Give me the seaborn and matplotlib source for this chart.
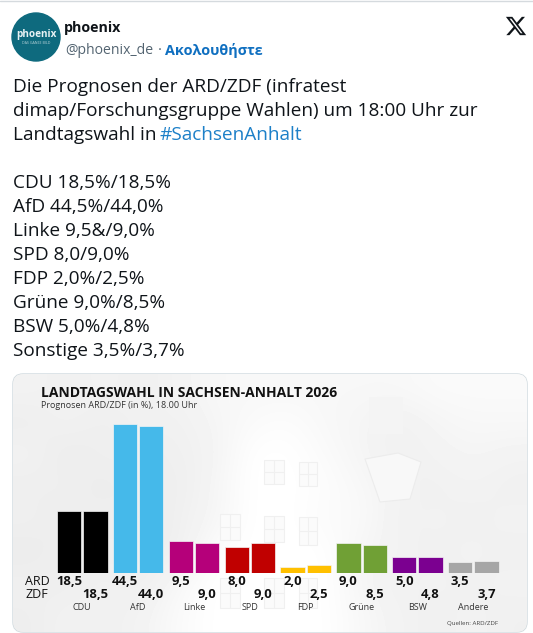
import pandas as pd
import matplotlib
matplotlib.use("Agg")
import matplotlib.pyplot as plt
import seaborn as sns
from matplotlib.patches import Circle, FancyBboxPatch, PathPatch, Polygon, Rectangle
from matplotlib.path import Path
from matplotlib.transforms import Affine2D

parties = ["CDU", "AfD", "Linke", "SPD", "FDP", "Grüne", "BSW", "Andere"]
ard = [18.5, 44.5, 9.5, 8.0, 2.0, 9.0, 5.0, 3.5]
zdf = [18.5, 44.0, 9.0, 9.0, 2.5, 8.5, 4.8, 3.7]
colors = ["#000000", "#45b9ea", "#b5007a", "#c00000", "#ffc000", "#70a035", "#7b0090", "#a6a6a6"]

tweet_lines = [
    "Die Prognosen der ARD/ZDF (infratest",
    "dimap/Forschungsgruppe Wahlen) um 18:00 Uhr zur",
]
result_lines = [
    "CDU 18,5%/18,5%",
    "AfD 44,5%/44,0%",
    "Linke 9,5&/9,0%",
    "SPD 8,0/9,0%",
    "FDP 2,0%/2,5%",
    "Grüne 9,0%/8,5%",
    "BSW 5,0%/4,8%",
    "Sonstige 3,5%/3,7%",
]

# rough tones of the faded photo behind the chart
photo_tones = [
    [.95, .94, .95, .94, .95, .97, .97, .97, .97, .97, .97, .98, .98, .98],
    [.93, .95, .93, .95, .94, .96, .98, .99, .97, .96, .94, .96, .97, .97],
    [.95, .92, .94, .93, .94, .95, 1.0, 1.0, .98, .96, .94, .95, .96, .95],
    [.93, .94, .92, .94, .93, .96, 1.0, 1.0, .99, .97, .95, .94, .95, .94],
    [.94, .92, .94, .92, .94, .96, 1.0, 1.0, .98, .98, .94, .95, .94, .95],
    [.92, .94, .93, .94, .93, .99, 1.0, 1.0, 1.0, .96, .95, .94, .95, .94],
    [.94, .93, .95, .93, .97, 1.0, 1.0, 1.0, 1.0, .96, .94, .95, .94, .95],
    [.93, .95, .94, .95, .98, 1.0, 1.0, 1.0, 1.0, .97, .95, .94, .95, .94],
]
window_boxes = [(264, 460, 20, 24), (299, 462, 18, 24), (220, 514, 20, 26), (264, 516, 20, 26),
                (299, 517, 18, 28), (220, 578, 20, 30), (264, 578, 20, 30), (299, 578, 18, 30)]
lantern_shape = [(365, 459), (398, 453), (421, 462), (410, 499), (380, 502)]

# x logo outline on a 24 unit grid
logo_points = [(18.244, 2.25), (21.552, 2.25), (14.325, 10.51), (22.827, 21.75), (16.17, 21.75),
               (10.956, 14.933), (4.99, 21.75), (1.68, 21.75), (9.41, 12.915), (1.254, 2.25),
               (8.08, 2.25), (12.793, 8.481), (18.244, 2.25),
               (17.083, 19.77), (18.916, 19.77), (7.084, 4.126), (5.117, 4.126), (17.083, 19.77)]
logo_codes = [Path.MOVETO] + [Path.LINETO] * 12 + [Path.MOVETO] + [Path.LINETO] * 4

sns.set_theme(style="white")
plt.rcParams["font.family"] = ["Open Sans", "DejaVu Sans"]

fig = plt.figure(figsize=(5.33, 6.33), dpi=100, facecolor="white")

# page layer in pixel coordinates for the post around the chart
page = fig.add_axes([0, 0, 1, 1])
page.set_xlim(0, 533)
page.set_ylim(633, 0)
page.axis("off")

page.plot([0, 533], [0.5, 0.5], color="#d5dade", lw=1)
page.add_patch(Circle((36, 37), 24, color="#0e6a7e"))
page.text(36, 35, "phoenix", color="#e8f2f4", fontsize=7.2, fontweight="bold", ha="center", va="center")
page.text(36, 43, "DAS GANZE BILD", color="#bcd6dc", fontsize=2.6, ha="center", va="center")
page.text(64, 28, "phoenix", color="#0f1419", fontsize=10.3, fontweight="bold", va="center")
page.text(65, 50.5, "@phoenix_de", color="#536471", fontsize=10.1, va="center")
page.text(158, 50.5, "·", color="#536471", fontsize=10.5, va="center")
page.text(165, 50.5, "Ακολουθήστε", color="#0f6fc0", fontsize=10.4, fontweight="bold", va="center")
logo_tf = Affine2D().translate(-12, -12).scale(0.94).translate(516, 26) + page.transData
page.add_patch(PathPatch(Path(logo_points, logo_codes), facecolor="#0f1419", edgecolor="none", transform=logo_tf))

for i, line in enumerate(tweet_lines):
    page.text(13, 87 + 24 * i, line, color="#0f1419", fontsize=13.7, va="center")
page.text(13, 135, "Landtagswahl in ", color="#0f1419", fontsize=13.7, va="center")
page.text(160, 135, "#SachsenAnhalt", color="#1d80c8", fontsize=13.7, va="center")
for i, line in enumerate(result_lines):
    page.text(13, 183.5 + 24 * i, line, color="#0f1419", fontsize=13.7, va="center")

# chart card with the washed out photo clipped to it
card = FancyBboxPatch((13, 374), 514, 258, boxstyle="round,pad=0,rounding_size=10",
                      facecolor="#f2f2f2", edgecolor="#cfd9de", lw=1)
page.add_patch(card)
photo = page.imshow(photo_tones, cmap="gray", vmin=0, vmax=1, extent=(13, 527, 632, 374),
                    interpolation="bicubic", aspect="auto", zorder=2)
photo.set_clip_path(card)
page.set_xlim(0, 533)
page.set_ylim(633, 0)
for x, y, w, h in window_boxes:
    page.add_patch(Rectangle((x, y), w, h, facecolor="#fbfbfb", edgecolor="#f0f0f0", lw=0.8, zorder=3))
    page.plot([x + w / 2, x + w / 2], [y, y + h], color="#f0f0f0", lw=0.8, zorder=3)
    page.plot([x, x + w], [y + h / 2, y + h / 2], color="#f0f0f0", lw=0.8, zorder=3)
page.add_patch(Rectangle((369, 397), 34, 37, facecolor="#f4f4f4", edgecolor="none", zorder=3))
page.add_patch(Polygon(lantern_shape, facecolor="#f8f8f8", edgecolor="#ececec", lw=0.8, zorder=3))

page.text(41, 393, "LANDTAGSWAHL IN SACHSEN-ANHALT 2026", color="#111111", fontsize=10,
          fontweight="bold", va="center", zorder=5)
page.text(41, 405, "Prognosen ARD/ZDF (in %), 18.00 Uhr", color="#333333", fontsize=6.5,
          va="center", zorder=5)
page.text(25, 581.7, "ARD", color="#111111", fontsize=9, va="center", zorder=5)
page.text(25, 594.3, "ZDF", color="#111111", fontsize=9, va="center", zorder=5)
page.text(498, 623.7, "Quellen: ARD/ZDF", color="#444444", fontsize=4.4, ha="right", va="center", zorder=5)

# bars
df = pd.DataFrame({
    "party": parties * 2,
    "institute": ["ARD"] * len(parties) + ["ZDF"] * len(parties),
    "value": ard + zdf,
})
ax = fig.add_axes([54.3 / 533, (633 - 573.4) / 633, 446.9 / 533, 154.6 / 633], facecolor="none")
sns.barplot(data=df, x="party", y="value", hue="institute", width=0.942, gap=0.076,
            legend=False, ax=ax)
ax.set_ylim(0, 46)
ax.set_xlim(-0.5, 7.5)
for side in ax.spines.values():
    side.set_visible(False)
ax.set_xlabel("")
ax.set_ylabel("")
ax.set_yticks([])
ax.tick_params(axis="x", length=0, pad=21.2, labelsize=6.5, labelcolor="#333333")

label_y = {0: -8.3 / 154.6, 1: -20.9 / 154.6}
for k, container in enumerate(ax.containers):
    for bar, color, value in zip(container, colors, df["value"].values[k * 8:(k + 1) * 8]):
        bar.set_facecolor(color)
        bar.set_edgecolor("#f4f4f4")
        bar.set_linewidth(0.5)
        ax.text(bar.get_x() + bar.get_width() / 2, label_y[k], f"{value:.1f}".replace(".", ","),
                transform=ax.get_xaxis_transform(), ha="center", va="center",
                fontsize=9.4, fontweight="bold", color="#111111")

fig.savefig("out.png", dpi=100)
